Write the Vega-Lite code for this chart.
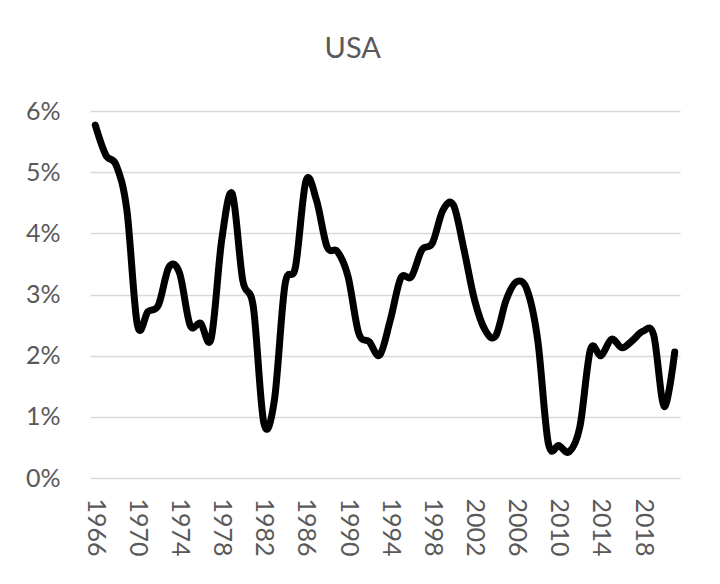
{
  "$schema": "https://vega.github.io/schema/vega-lite/v6.json",
  "width": 590,
  "height": 367,
  "autosize": "none",
  "padding": {"left": 90, "top": 111, "right": 40, "bottom": 106},
  "background": "white",
  "title": {"text": "USA", "font": "Lato", "fontSize": 29, "fontWeight": "normal", "color": "#595959", "anchor": "middle", "frame": "bounds", "offset": 35},
  "config": {"view": {"stroke": null}},
  "data": {"values": [
    {"year": 1966, "rate": 0.0577}, {"year": 1967, "rate": 0.0528}, {"year": 1968, "rate": 0.0511},
    {"year": 1969, "rate": 0.0438}, {"year": 1970, "rate": 0.0250}, {"year": 1971, "rate": 0.0272},
    {"year": 1972, "rate": 0.0283}, {"year": 1973, "rate": 0.0345}, {"year": 1974, "rate": 0.0335},
    {"year": 1975, "rate": 0.0250}, {"year": 1976, "rate": 0.0253}, {"year": 1977, "rate": 0.0228},
    {"year": 1978, "rate": 0.0389}, {"year": 1979, "rate": 0.0465}, {"year": 1980, "rate": 0.0323},
    {"year": 1981, "rate": 0.0280}, {"year": 1982, "rate": 0.0090}, {"year": 1983, "rate": 0.0127},
    {"year": 1984, "rate": 0.0315}, {"year": 1985, "rate": 0.0345}, {"year": 1986, "rate": 0.0486},
    {"year": 1987, "rate": 0.0454}, {"year": 1988, "rate": 0.0378}, {"year": 1989, "rate": 0.0370},
    {"year": 1990, "rate": 0.0329}, {"year": 1991, "rate": 0.0237}, {"year": 1992, "rate": 0.0223},
    {"year": 1993, "rate": 0.0201}, {"year": 1994, "rate": 0.0258}, {"year": 1995, "rate": 0.0327},
    {"year": 1996, "rate": 0.0329}, {"year": 1997, "rate": 0.0373}, {"year": 1998, "rate": 0.0384},
    {"year": 1999, "rate": 0.0438}, {"year": 2000, "rate": 0.0446}, {"year": 2001, "rate": 0.0373},
    {"year": 2002, "rate": 0.0291}, {"year": 2003, "rate": 0.0242}, {"year": 2004, "rate": 0.0232},
    {"year": 2005, "rate": 0.0291}, {"year": 2006, "rate": 0.0321}, {"year": 2007, "rate": 0.0307},
    {"year": 2008, "rate": 0.0225}, {"year": 2009, "rate": 0.0057}, {"year": 2010, "rate": 0.0053},
    {"year": 2011, "rate": 0.0043}, {"year": 2012, "rate": 0.0084}, {"year": 2013, "rate": 0.0210},
    {"year": 2014, "rate": 0.0200}, {"year": 2015, "rate": 0.0227}, {"year": 2016, "rate": 0.0213},
    {"year": 2017, "rate": 0.0225}, {"year": 2018, "rate": 0.0240}, {"year": 2019, "rate": 0.0234},
    {"year": 2020, "rate": 0.0117}, {"year": 2021, "rate": 0.0206}
  ]},
  "mark": {"type": "line", "color": "black", "strokeWidth": 7, "interpolate": "cardinal", "strokeCap": "round", "strokeJoin": "round"},
  "encoding": {
    "x": {
      "field": "year", "type": "quantitative",
      "scale": {"domain": [1965.5, 2021.5], "nice": false, "zero": false},
      "axis": {
        "title": null, "grid": false, "domain": false, "ticks": false,
        "values": [1966, 1970, 1974, 1978, 1982, 1986, 1990, 1994, 1998, 2002, 2006, 2010, 2014, 2018],
        "format": "d", "labelAngle": 90, "labelPadding": 20,
        "labelFont": "Lato", "labelFontSize": 25, "labelColor": "#595959", "labelOverlap": false
      }
    },
    "y": {
      "field": "rate", "type": "quantitative",
      "scale": {"domain": [0, 0.06], "nice": false},
      "axis": {
        "title": null, "domain": false, "ticks": false, "format": ".0%",
        "values": [0, 0.01, 0.02, 0.03, 0.04, 0.05, 0.06],
        "gridColor": "#d9d9d9", "gridWidth": 1.5,
        "labelPadding": 30, "labelFont": "Lato", "labelFontSize": 25, "labelColor": "#595959"
      }
    }
  }
}
